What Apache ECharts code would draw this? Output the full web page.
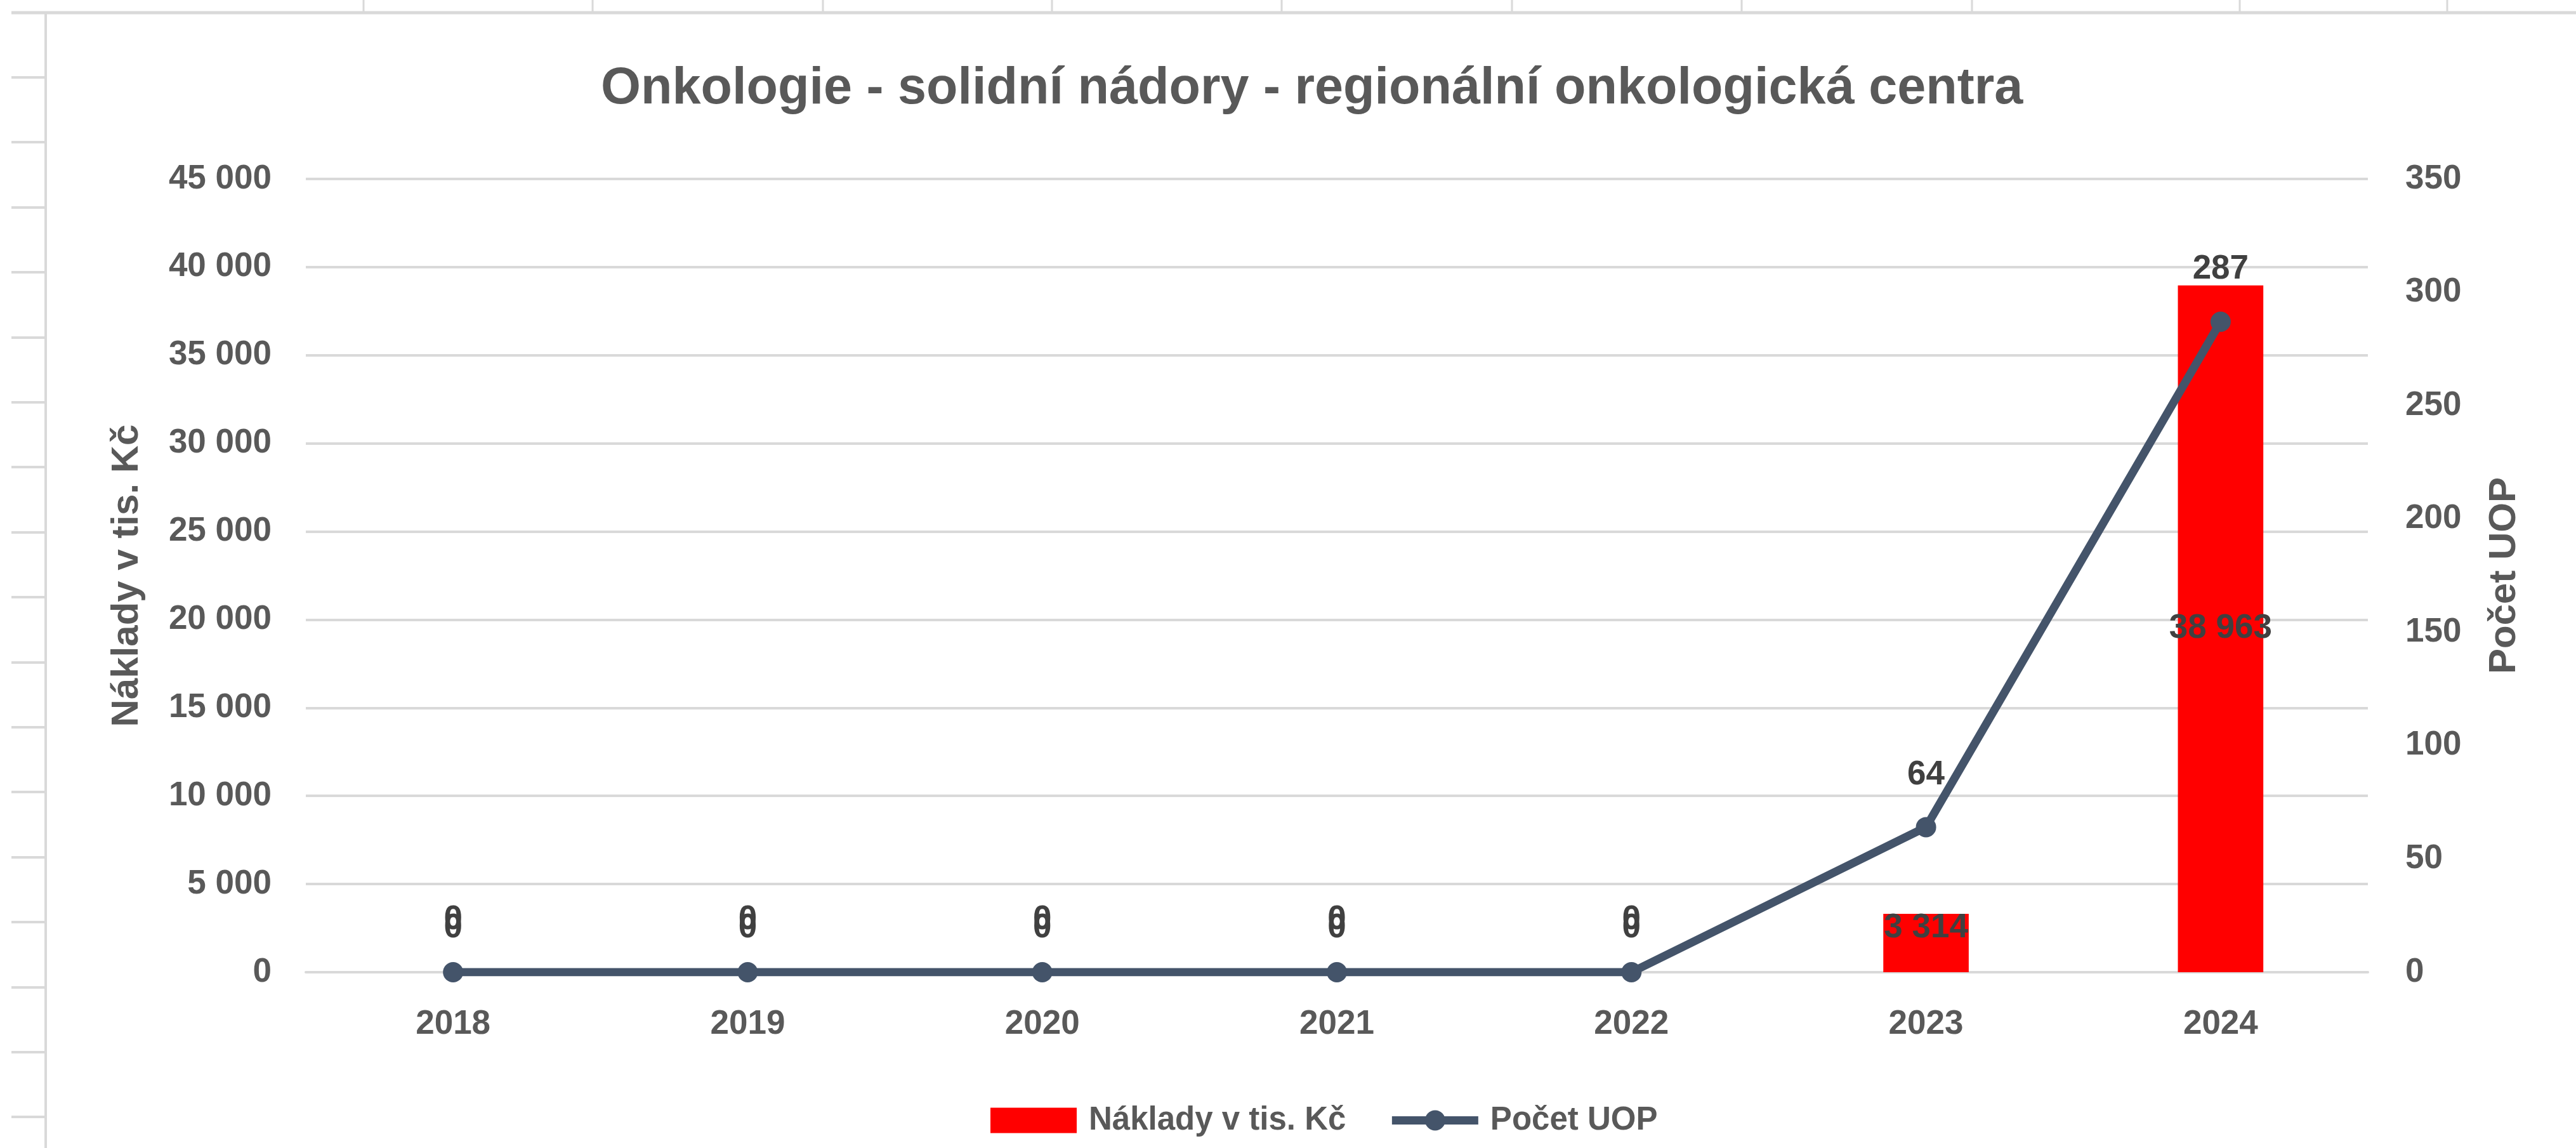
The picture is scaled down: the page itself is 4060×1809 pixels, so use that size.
<!DOCTYPE html>
<html>
<head>
<meta charset="utf-8">
<title>Onkologie - solidní nádory - regionální onkologická centra</title>
<script src="https://cdn.jsdelivr.net/npm/echarts@6/dist/echarts.min.js"></script>
<style>
  html, body { margin: 0; padding: 0; background: #fff; }
  #chart { width: 4060px; height: 1809px; }
</style>
</head>
<body>
<div id="chart"></div>
<script>
  // data
  var years = ['2018', '2019', '2020', '2021', '2022', '2023', '2024'];
  var naklady = [0, 0, 0, 0, 0, 3314, 38963];
  var pocetUop = [0, 0, 0, 0, 0, 64, 287];
  var leftTicks = [0, 45000, 5000];
  var rightTicks = [0, 350, 50];

  var grey = '#595959';
  var dark = '#404040';
  var gridGrey = '#d9d9d9';
  var lineBlue = '#44546a';
  var font = '"Liberation Sans", Arial, sans-serif';

  var fmt = function (v) {
    return String(v).replace(/\B(?=(\d{3})+(?!\d))/g, ' ');
  };

  // bar labels sit a bit differently depending on bar height (like the excel original)
  var barData = naklady.map(function (v) {
    var lab;
    if (v === 0) {
      lab = {position: 'top', distance: 43};
    } else if (v < 10000) {
      lab = {position: 'insideTop', distance: -4};
    } else {
      lab = {position: 'inside'};
    }
    return {value: v, label: lab};
  });

  // spreadsheet bits behind the chart
  var sheet = [];
  sheet.push({type: 'line', shape: {x1: 18, y1: 20, x2: 4060, y2: 20}, style: {stroke: gridGrey, lineWidth: 5}});
  sheet.push({type: 'line', shape: {x1: 72, y1: 20, x2: 72, y2: 1809}, style: {stroke: gridGrey, lineWidth: 4}});
  var cols = [573, 934, 1297, 1658, 2020, 2383, 2745, 3108, 3530, 3857];
  for (var c = 0; c < cols.length; c++) {
    sheet.push({type: 'line', shape: {x1: cols[c], y1: 0, x2: cols[c], y2: 20}, style: {stroke: gridGrey, lineWidth: 3}});
  }
  for (var r = 0; r < 17; r++) {
    var ry = Math.round(122 + r * 102.4);
    sheet.push({type: 'line', shape: {x1: 18, y1: ry, x2: 72, y2: ry}, style: {stroke: gridGrey, lineWidth: 4}});
  }

  var chart = echarts.init(document.getElementById('chart'));

  var option = {
    backgroundColor: '#ffffff',
    animation: false,
    textStyle: {fontFamily: font},
    graphic: sheet,
    title: {
      text: 'Onkologie - solidní nádory - regionální onkologická centra',
      left: 942,
      top: 95,
      textStyle: {fontFamily: font, fontSize: 81, fontWeight: 'bold', color: grey}
    },
    legend: {
      left: 1556,
      top: 1735,
      itemWidth: 136,
      itemHeight: 40,
      itemGap: 66,
      textStyle: {fontFamily: font, fontSize: 51, fontWeight: 'bold', color: grey, padding: [0, 0, 0, 14]},
      data: [
        {name: 'Náklady v tis. Kč', icon: 'rect'},
        {name: 'Počet UOP', lineStyle: {width: 13, color: lineBlue}, itemStyle: {color: lineBlue}}
      ]
    },
    grid: {left: 482, right: 328, top: 282, bottom: 277},
    xAxis: {
      type: 'category',
      data: years,
      axisLine: {lineStyle: {color: gridGrey, width: 4}},
      axisTick: {show: false},
      axisLabel: {margin: 56, fontSize: 53, fontWeight: 'bold', color: grey, fontFamily: font}
    },
    yAxis: [
      {
        type: 'value',
        min: leftTicks[0],
        max: leftTicks[1],
        interval: leftTicks[2],
        name: 'Náklady v tis. Kč',
        nameLocation: 'middle',
        nameGap: 252,
        nameRotate: 90,
        nameTextStyle: {fontFamily: font, fontSize: 60, fontWeight: 'bold', color: grey},
        axisLine: {show: false},
        axisTick: {show: false},
        splitLine: {lineStyle: {color: gridGrey, width: 4}},
        axisLabel: {margin: 54, fontSize: 53, fontWeight: 'bold', color: grey, fontFamily: font, formatter: fmt}
      },
      {
        type: 'value',
        min: rightTicks[0],
        max: rightTicks[1],
        interval: rightTicks[2],
        name: 'Počet UOP',
        nameLocation: 'middle',
        nameGap: 185,
        nameRotate: 90,
        nameTextStyle: {fontFamily: font, fontSize: 60, fontWeight: 'bold', color: grey},
        axisLine: {show: false},
        axisTick: {show: false},
        splitLine: {show: false},
        axisLabel: {margin: 59, fontSize: 53, fontWeight: 'bold', color: grey, fontFamily: font}
      }
    ],
    series: [
      {
        name: 'Náklady v tis. Kč',
        type: 'bar',
        yAxisIndex: 0,
        barWidth: '29%',
        itemStyle: {color: '#ff0000'},
        label: {
          show: true,
          fontFamily: font,
          fontSize: 53,
          fontWeight: 'bold',
          color: dark,
          formatter: function (p) { return fmt(p.value); }
        },
        data: barData
      },
      {
        name: 'Počet UOP',
        type: 'line',
        yAxisIndex: 1,
        symbol: 'circle',
        symbolSize: 32,
        lineStyle: {color: lineBlue, width: 13},
        itemStyle: {color: lineBlue},
        z: 5,
        label: {
          show: true,
          position: 'top',
          distance: 40,
          fontFamily: font,
          fontSize: 53,
          fontWeight: 'bold',
          color: dark
        },
        data: pocetUop
      }
    ]
  };

  chart.setOption(option);
</script>
</body>
</html>
